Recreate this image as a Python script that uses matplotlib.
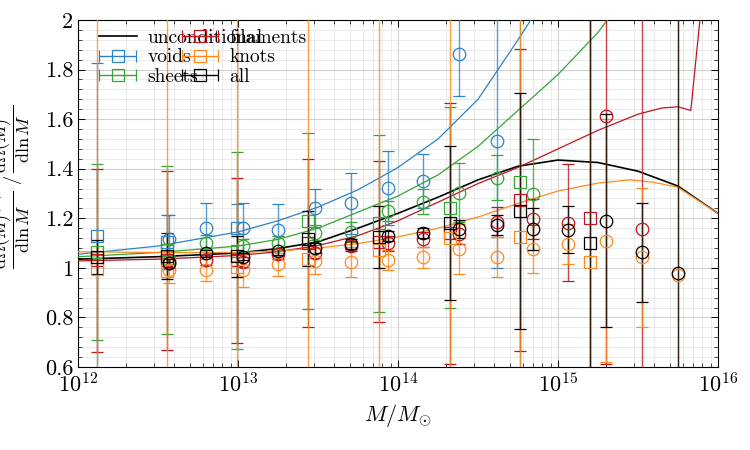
import numpy as np
import matplotlib
matplotlib.use('Agg')
import matplotlib.pyplot as plt
from matplotlib.ticker import MultipleLocator, FuncFormatter, LogLocator, NullFormatter
from matplotlib.lines import Line2D
from matplotlib.legend_handler import HandlerErrorbar
from matplotlib.container import ErrorbarContainer

plt.rcParams['font.family'] = 'cmr10'
plt.rcParams['mathtext.fontset'] = 'cm'
plt.rcParams['axes.formatter.use_mathtext'] = True

# ---------------- data ----------------
envs = ['voids', 'sheets', 'filaments', 'knots', 'all']
colors = {'voids': '#2b83c6', 'sheets': '#35a535', 'filaments': '#c0141e',
          'knots': '#ff8a1c', 'all': '#000000'}

# square-marker sample: halo mass bins
M_sq = [1.31e12, 3.62e12, 9.9e12, 2.72e13, 7.57e13, 2.10e14, 5.75e14, 1.58e15]
sq_val = {
    'voids':     [1.128, 1.105, 1.159, np.nan, np.nan, np.nan, np.nan, np.nan],
    'sheets':    [1.063, 1.072, 1.070, 1.190, 1.179, 1.243, 1.345, np.nan],
    'filaments': [1.030, 1.030, 1.030, 1.100, 1.106, 1.139, 1.274, 1.202],
    'knots':     [0.994, 0.988, 1.005, 1.035, 1.072, 1.120, 1.126, 1.022],
    'all':       [1.044, 1.048, 1.046, 1.118, 1.125, 1.180, 1.230, 1.099],
}
sq_err = {
    'voids':     [0.70, 0.11, 0.10, np.nan, np.nan, np.nan, np.nan, np.nan],
    'sheets':    [0.355, 0.34, 0.397, 0.355, 0.356, 0.406, 0.80, np.nan],
    'filaments': [0.37, 0.36, 0.334, 0.34, 0.326, 0.527, 0.61, 3.0],
    'knots':     [3.0, 3.0, 3.0, 3.0, 3.0, 3.0, 3.0, 3.0],
    'all':       [0.069, 0.094, 0.084, 0.112, 0.124, 0.31, 0.477, 3.0],
}

# circle-marker sample
M_ci = [3.73e12, 6.31e12, 1.07e13, 1.79e13, 3.05e13, 5.12e13, 8.6e13, 1.44e14,
        2.42e14, 4.13e14, 6.93e14, 1.16e15, 1.99e15, 3.33e15, 5.6e15]
ci_val = {
    'voids':     [1.115, 1.159, 1.162, 1.153, 1.240, 1.260, 1.323, 1.350, 1.861, 1.513,
                  np.nan, np.nan, np.nan, np.nan, np.nan],
    'sheets':    [1.032, 1.101, 1.088, 1.100, 1.142, 1.146, 1.229, 1.267, 1.303, 1.364,
                  1.297, np.nan, np.nan, np.nan, np.nan],
    'filaments': [1.020, 1.032, 1.025, 1.055, 1.060, 1.088, 1.100, 1.116, 1.137, 1.186,
                  1.197, 1.182, 1.612, 1.157, np.nan],
    'knots':     [0.990, 0.991, 0.991, 1.014, 1.028, 1.025, 1.032, 1.042, 1.075, 1.045,
                  1.077, 1.096, 1.110, 1.042, 0.971],
    'all':       [1.020, 1.059, 1.045, 1.066, 1.081, 1.096, 1.130, 1.139, 1.157, 1.173,
                  1.157, 1.153, 1.190, 1.063, 0.978],
}
ci_err = {
    'voids':     [0.10, 0.104, 0.098, 0.105, 0.077, 0.124, 0.15, 0.11, 0.168, 0.515,
                  np.nan, np.nan, np.nan, np.nan, np.nan],
    'sheets':    [0.02, 0.03, 0.03, 0.03, 0.03, 0.04, 0.04, 0.05, 0.12, 0.09,
                  0.224, np.nan, np.nan, np.nan, np.nan],
    'filaments': [0.02, 0.02, 0.02, 0.02, 0.02, 0.02, 0.03, 0.03, 0.04, 0.06,
                  0.08, 0.237, 1.0, 3.0, np.nan],
    'knots':     [0.05, 0.043, 0.07, 0.047, 0.054, 0.061, 0.041, 0.044, 0.10, 0.081,
                  0.097, 0.082, 0.49, 0.28, 3.0],
    'all':       [0.015, 0.015, 0.015, 0.015, 0.02, 0.02, 0.02, 0.02, 0.036, 0.04,
                  0.083, 0.095, 0.43, 0.20, 3.0],
}

# model curves (log10 M, ratio)
uncond_logM = [12, 12.5, 13, 13.25, 13.5, 13.75, 14, 14.25, 14.5, 14.75, 15, 15.25, 15.5, 15.75, 16]
uncond_val = [1.035, 1.045, 1.060, 1.078, 1.105, 1.160, 1.220, 1.285, 1.355, 1.410, 1.435,
              1.425, 1.390, 1.330, 1.220]
curve_logM = {
    'voids': [12, 12.5, 13, 13.25, 13.5, 13.75, 14, 14.25, 14.5, 14.75, 14.85],
    'sheets': [12, 12.5, 13, 13.25, 13.5, 13.75, 14, 14.25, 14.5, 14.75, 15, 15.25, 15.32],
    'filaments': [12, 12.5, 13, 13.25, 13.5, 13.75, 14, 14.25, 14.5, 14.75, 15, 15.25, 15.5,
                  15.65, 15.75, 15.83, 15.89],
    'knots': [12, 12.5, 13, 13.25, 13.5, 13.75, 14, 14.25, 14.5, 14.75, 15, 15.25, 15.45,
              15.6, 15.75, 16],
}
curve_val = {
    'voids': [1.055, 1.088, 1.145, 1.190, 1.245, 1.315, 1.405, 1.520, 1.680, 1.920, 2.020],
    'sheets': [1.045, 1.062, 1.088, 1.115, 1.160, 1.225, 1.290, 1.375, 1.490, 1.635, 1.780,
               1.950, 2.010],
    'filaments': [1.028, 1.035, 1.050, 1.065, 1.090, 1.130, 1.190, 1.265, 1.340, 1.405, 1.480,
                  1.555, 1.620, 1.645, 1.650, 1.635, 2.020],
    'knots': [1.065, 1.062, 1.062, 1.068, 1.080, 1.098, 1.125, 1.160, 1.205, 1.260, 1.310,
              1.342, 1.355, 1.345, 1.325, 1.220],
}
legend_order = ['unconditional', 'voids', 'sheets', 'filaments', 'knots', 'all']

# ---------------- figure ----------------
fig = plt.figure(figsize=(7.5, 4.5), dpi=100)
ax = fig.add_axes([78/750, (450-367)/450, 640/750, 347/450])
ax.set_xscale('log')
ax.set_xlim(1e12, 1e16)
ax.set_ylim(0.6, 2.0)

ax.yaxis.set_major_locator(MultipleLocator(0.2))
ax.yaxis.set_minor_locator(MultipleLocator(0.04))
ax.yaxis.set_major_formatter(FuncFormatter(lambda v, p: '%g' % round(v, 2)))
ax.xaxis.set_major_locator(LogLocator(base=10, numticks=10))
ax.xaxis.set_minor_locator(LogLocator(base=10, subs=np.arange(2, 10), numticks=20))
ax.xaxis.set_minor_formatter(NullFormatter())

ax.grid(which='major', color='#d0d0d0', lw=0.8, zorder=0)
ax.grid(which='minor', color='#e6e6e6', lw=0.6, zorder=0)
ax.set_axisbelow(True)
ax.tick_params(which='both', direction='in', top=True, right=True, labelsize=16)
ax.tick_params(which='major', length=5, width=0.7)
ax.tick_params(which='minor', length=3, width=0.5)
for s in ax.spines.values():
    s.set_linewidth(0.8)

# curves
ax.plot(10**np.array(uncond_logM), uncond_val, color='black', lw=1.2, zorder=3)
for e in ['voids', 'sheets', 'filaments', 'knots']:
    ax.plot(10**np.array(curve_logM[e]), curve_val[e], color=colors[e], lw=0.9, zorder=3)

# points
ekw = dict(elinewidth=1.0, capsize=4, capthick=1.0, markersize=9, mew=0.9,
           mfc='none', linestyle='none')
for e in envs:
    c = colors[e]
    eb = ax.errorbar(M_sq, sq_val[e], yerr=sq_err[e], fmt='s', color=c, zorder=4, **ekw)
    for part in eb[2]:
        part.set_alpha(0.8)
    eb = ax.errorbar(M_ci, ci_val[e], yerr=ci_err[e], fmt='o', color=c, zorder=4, **ekw)
    for part in eb[2]:
        part.set_alpha(0.8)

# legend handles
handles = [Line2D([], [], color='black', lw=1.2)]
for e in ['voids', 'sheets', 'filaments', 'knots', 'all']:
    h = ax.errorbar([np.nan], [np.nan], xerr=[1.0], fmt='s', color=colors[e],
                    elinewidth=1.0, capsize=4, markersize=9, mew=0.9, mfc='none')
    handles.append(h)
leg = ax.legend(handles, legend_order, ncol=2, loc='upper left',
                bbox_to_anchor=(21/640, 1 - 9/347), frameon=False, fontsize=14,
                handlelength=1.95, handletextpad=0.55, labelspacing=0.08,
                columnspacing=-4.2, borderpad=0, borderaxespad=0,
                handler_map={ErrorbarContainer: HandlerErrorbar(xerr_size=0.95)})

ax.set_xlabel(r'$M/M_{\odot}$', fontsize=16, labelpad=4)
ax.set_ylabel(r'$\dfrac{\mathrm{d}\Omega(M)^{(\mathrm{rc})}}{\mathrm{d}\ln M}\,\,/\,'
              r'\dfrac{\mathrm{d}\Omega(M)^{\mathrm{X}}}{\mathrm{d}\ln M}$', fontsize=13)
ax.yaxis.set_label_coords(-0.071, 0.52)

fig.savefig('out.png', dpi=100)
